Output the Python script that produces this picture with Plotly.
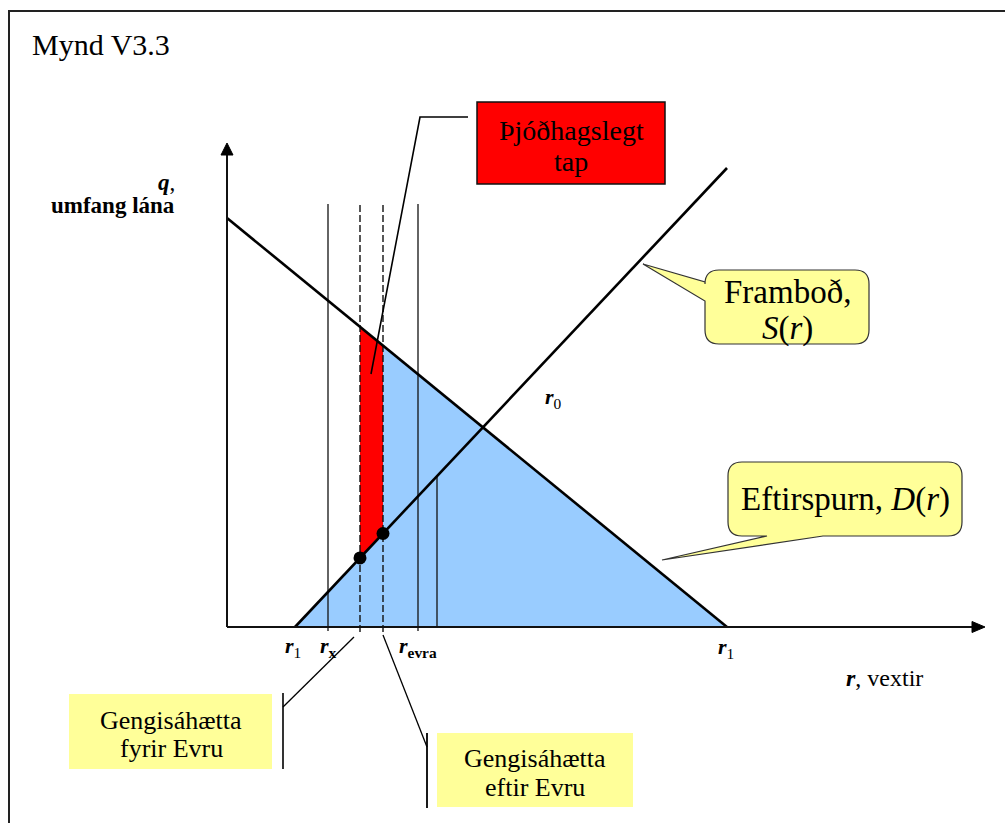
import numpy as np
import plotly.graph_objects as go

# ---- Diagram data (r = interest rate, q = loan volume), schematic units ----
demand_r = [0, 500]
demand_q = [409, 0]
supply_r = [68, 500]
supply_q = [0, 459]

r_x = 101        # r_x
r_fyrir = 133    # exchange-rate risk before euro (dashed)
r_eftir = 156    # exchange-rate risk after euro (dashed)
r_evra = 191     # r_evra
r_extra = 210    # short vertical line
v_top = 423      # top of the vertical guide lines

axis_r_end = 758
axis_q_end = 484

SERIF = "Liberation Serif"
BLUE = "#99CCFF"
RED = "#FF0000"
YELLOW = "#FFFF99"


def D(r):
    return float(np.interp(r, demand_r, demand_q))


def S(r):
    return float(np.interp(r, supply_r, supply_q))


fig = go.Figure()

# blue area under demand, right of supply
blue_x = [supply_r[0], r_eftir, r_eftir, demand_r[1], supply_r[0]]
blue_y = [0, S(r_eftir), D(r_eftir), 0, 0]
fig.add_trace(go.Scatter(x=blue_x, y=blue_y, fill="toself", fillcolor=BLUE,
                         mode="lines", line=dict(width=0), hoverinfo="skip"))

# red deadweight loss strip
red_x = [r_fyrir, r_fyrir, r_eftir, r_eftir, r_fyrir]
red_y = [S(r_fyrir), D(r_fyrir), D(r_eftir), S(r_eftir), S(r_fyrir)]
fig.add_trace(go.Scatter(x=red_x, y=red_y, fill="toself", fillcolor=RED,
                         mode="lines", line=dict(width=0), hoverinfo="skip"))

# vertical guide lines
for rv in [r_x, r_evra]:
    fig.add_trace(go.Scatter(x=[rv, rv], y=[v_top, -4], mode="lines",
                             line=dict(color="#111", width=1.3), hoverinfo="skip"))
for rv in [r_fyrir, r_eftir]:
    fig.add_trace(go.Scatter(x=[rv, rv], y=[v_top - 1, -5], mode="lines",
                             line=dict(color="#111", width=1.4, dash="7px,3px"),
                             hoverinfo="skip"))
fig.add_trace(go.Scatter(x=[r_extra, r_extra], y=[S(r_extra), 0], mode="lines",
                         line=dict(color="#111", width=1.3), hoverinfo="skip"))

# demand and supply lines
fig.add_trace(go.Scatter(x=demand_r, y=demand_q, mode="lines",
                         line=dict(color="black", width=2.6), hoverinfo="skip"))
fig.add_trace(go.Scatter(x=supply_r, y=supply_q, mode="lines",
                         line=dict(color="black", width=2.6), hoverinfo="skip"))

# axes with arrowheads
fig.add_trace(go.Scatter(x=[0, axis_r_end - 10], y=[0, 0], mode="lines",
                         line=dict(color="#111", width=2), hoverinfo="skip"))
fig.add_trace(go.Scatter(x=[0, 0], y=[0, axis_q_end - 10], mode="lines",
                         line=dict(color="#111", width=2), hoverinfo="skip"))
fig.add_trace(go.Scatter(x=[axis_r_end - 13, axis_r_end, axis_r_end - 13, axis_r_end - 13],
                         y=[5.5, 0, -5.5, 5.5], fill="toself", fillcolor="black",
                         mode="lines", line=dict(color="black", width=1), hoverinfo="skip"))
fig.add_trace(go.Scatter(x=[-6, 0, 6, -6],
                         y=[axis_q_end - 12, axis_q_end, axis_q_end - 12, axis_q_end - 12],
                         fill="toself", fillcolor="black",
                         mode="lines", line=dict(color="black", width=1), hoverinfo="skip"))

# dots on supply curve
fig.add_trace(go.Scatter(x=[r_fyrir, r_eftir], y=[S(r_fyrir), S(r_eftir)], mode="markers",
                         marker=dict(color="black", size=13), hoverinfo="skip"))

shapes = []
# outer frame
shapes.append(dict(type="rect", xref="paper", yref="paper", x0=9 / 1005, x1=1.02,
                   y0=-0.02, y1=1 - 11 / 823, line=dict(color="#222", width=2),
                   fillcolor="rgba(0,0,0,0)", layer="below"))
# red label box
shapes.append(dict(type="rect", xref="x", yref="y", x0=250, x1=438, y0=443, y1=525,
                   fillcolor=RED, line=dict(color="#111", width=1.5)))
# callout line from red box
shapes.append(dict(type="path", xref="x", yref="y", path="M 241,510 L 193,510 L 144,253",
                   line=dict(color="black", width=1.6)))
# yellow boxes (plain)
shapes.append(dict(type="rect", xref="x", yref="y", x0=-158, x1=45, y0=-142, y1=-67,
                   fillcolor=YELLOW, line=dict(width=0)))
shapes.append(dict(type="rect", xref="x", yref="y", x0=210, x1=406, y0=-180, y1=-106,
                   fillcolor=YELLOW, line=dict(width=0)))
# bracket bars and leader lines
shapes.append(dict(type="line", xref="x", yref="y", x0=56, x1=56, y0=-66, y1=-142,
                   line=dict(color="black", width=1.6)))
shapes.append(dict(type="line", xref="x", yref="y", x0=127, x1=56, y0=-10, y1=-80,
                   line=dict(color="black", width=1.3)))
shapes.append(dict(type="line", xref="x", yref="y", x0=200, x1=200, y0=-106, y1=-181,
                   line=dict(color="black", width=1.8)))
shapes.append(dict(type="line", xref="x", yref="y", x0=156, x1=200, y0=-8, y1=-120,
                   line=dict(color="black", width=1.3)))


def rounded_callout_left(x0, x1, yb, yt, rad, tail_lo, tail_hi, tip):
    p = f"M {x0+rad},{yt} L {x1-rad},{yt} Q {x1},{yt} {x1},{yt-rad} "
    p += f"L {x1},{yb+rad} Q {x1},{yb} {x1-rad},{yb} L {x0+rad},{yb} "
    p += f"Q {x0},{yb} {x0},{yb+rad} L {x0},{tail_lo} L {tip[0]},{tip[1]} "
    p += f"L {x0},{tail_hi} L {x0},{yt-rad} Q {x0},{yt} {x0+rad},{yt} Z"
    return p


def rounded_callout_bottom(x0, x1, yb, yt, rad, base_r, base_l, tip):
    p = f"M {x0+rad},{yt} L {x1-rad},{yt} Q {x1},{yt} {x1},{yt-rad} "
    p += f"L {x1},{yb+rad} Q {x1},{yb} {x1-rad},{yb} L {base_r},{yb} "
    p += f"L {tip[0]},{tip[1]} L {base_l},{yb} L {x0+rad},{yb} "
    p += f"Q {x0},{yb} {x0},{yb+rad} L {x0},{yt-rad} Q {x0},{yt} {x0+rad},{yt} Z"
    return p


shapes.append(dict(type="path", xref="x", yref="y",
                   path=rounded_callout_left(478, 642, 283, 357, 14, 326, 345, (416, 363)),
                   fillcolor=YELLOW, line=dict(color="#333", width=1.2)))
shapes.append(dict(type="path", xref="x", yref="y",
                   path=rounded_callout_bottom(501, 735, 91, 165, 14, 596, 540, (435, 67)),
                   fillcolor=YELLOW, line=dict(color="#333", width=1.2)))

ann = []


def txt(x, y, text, size, xanchor="center", color="black"):
    ann.append(dict(x=x, y=y, xref="x", yref="y", text=text, showarrow=False,
                    xanchor=xanchor, yanchor="middle",
                    font=dict(family=SERIF, size=size, color=color)))


txt(-197, 583, "Mynd V3.3", 30, xanchor="left")
txt(-50, 445, "<b><i>q</i></b>,", 23, xanchor="right")
txt(-50, 422, "<b>umfang lána</b>", 23, xanchor="right")
txt(344, 497, "Þjóðhagslegt", 28)
txt(344, 466, "tap", 28)
txt(560, 335, "Framboð,", 33)
txt(560, 299, "<i>S</i>(<i>r</i>)", 33)
txt(618, 128, "Eftirspurn, <i>D</i>(<i>r</i>)", 33)
txt(326, 229, "<b><i>r</i></b><sub>0</sub>", 22)
txt(supply_r[0] - 2, -20, "<b><i>r</i></b><sub>1</sub>", 22)
txt(r_x, -20, "<b><i>r</i></b><sub><b>x</b></sub>", 22)
txt(r_evra, -20, "<b><i>r</i></b><sub><b>evra</b></sub>", 22)
txt(demand_r[1] - 1, -21, "<b><i>r</i></b><sub>1</sub>", 22)
txt(657, -51, "<b><i>r</i></b>, vextir", 24)
txt(-56, -93, "Gengisáhætta", 26)
txt(-56, -121, "fyrir Evru", 26)
txt(308, -131, "Gengisáhætta", 26)
txt(308, -160, "eftir Evru", 26)

fig.update_layout(
    width=1005, height=823,
    margin=dict(l=0, r=0, t=0, b=0),
    paper_bgcolor="white", plot_bgcolor="white",
    showlegend=False,
    font=dict(family=SERIF),
    xaxis=dict(range=[-227, 778], visible=False, fixedrange=True),
    yaxis=dict(range=[-196, 627], visible=False, fixedrange=True),
    shapes=shapes,
    annotations=ann,
)

fig.write_html("out.html", config={"displayModeBar": False},
               post_script="document.body.style.margin='0';")
